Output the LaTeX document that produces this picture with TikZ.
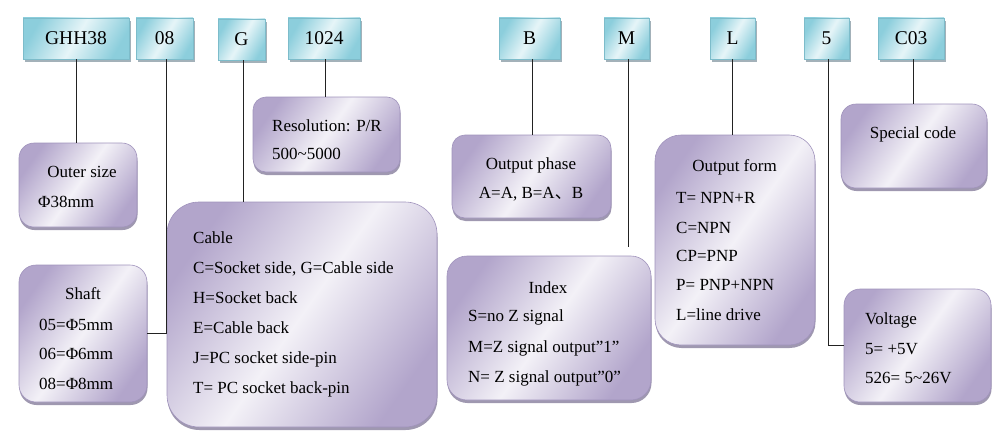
\documentclass[tikz,border=0pt]{standalone}
\usepackage{fontspec}
\setmainfont{Liberation Serif}
\newfontfamily\cjk{Noto Sans CJK SC}
\usetikzlibrary{shadows}
\definecolor{lilac}{HTML}{B2A5CB}
\definecolor{lilaclight}{HTML}{F3F1F7}
\definecolor{lilacborder}{HTML}{A093BC}
\definecolor{lilacshadow}{HTML}{8E86A2}
\definecolor{cyanedge}{HTML}{8CCEDC}
\definecolor{cyanlight}{HTML}{E6F5F8}
\definecolor{cyanborder}{HTML}{7DBCCA}
\definecolor{cyanshadow}{HTML}{8C9EA8}
\definecolor{linecol}{HTML}{222222}
\tikzset{
  codebox/.style={draw=cyanborder, line width=0.6pt, inner sep=0pt,
    left color=cyanedge, right color=cyanedge, middle color=cyanlight, shading angle=60,
    minimum height=41pt, font=\fontsize{19.5}{22}\selectfont,
    drop shadow={shadow xshift=2pt, shadow yshift=-3pt, fill=cyanshadow, opacity=0.8}},
  descbox/.style={draw=lilacborder, line width=0.6pt, inner sep=0pt,
    left color=lilac, right color=lilac, middle color=lilaclight, shading angle=55,
    drop shadow={shadow xshift=0.5pt, shadow yshift=-3pt, fill=lilacshadow, opacity=0.85}},
  txt/.style={inner sep=0pt, font=\fontsize{17}{20}\selectfont, text=black},
  ltxt/.style={txt, anchor=base west},
  ctxt/.style={txt, anchor=base},
  conn/.style={draw=linecol, line width=0.9pt},
}
\begin{document}
\begin{tikzpicture}[x=1pt,y=-1pt]
\useasboundingbox (0,0) rectangle (1000,436);
% code boxes
\node[codebox, minimum width=106pt] (ghh) at (76,38.5) {GHH38};
\node[codebox, minimum width=57pt] (c08) at (164.5,38.5) {08};
\node[codebox, minimum width=47pt] (cG) at (241.5,39.5) {G};
\node[codebox, minimum width=72pt] (c1024) at (324,38.5) {1024};
\node[codebox, minimum width=61pt] (cB) at (529.5,38.5) {B};
\node[codebox, minimum width=45pt] (cM) at (626.5,38.5) {M};
\node[codebox, minimum width=45pt] (cL) at (732.5,38.5) {L};
\node[codebox, minimum width=45pt] (c5) at (826.5,38.5) {5};
\node[codebox, minimum width=66pt] (cC03) at (911,38.5) {C03};
% description boxes
\node[descbox, minimum width=118pt, minimum height=84pt, rounded corners=15pt] (outer) at (78,185) {};
\node[descbox, minimum width=128pt, minimum height=137pt, rounded corners=17pt] (shaft) at (83,333.5) {};
\node[descbox, minimum width=270pt, minimum height=225pt, rounded corners=32pt] (cable) at (302,314.5) {};
\node[descbox, minimum width=147pt, minimum height=75pt, rounded corners=13pt] (res) at (326.5,134.5) {};
\node[descbox, minimum width=159pt, minimum height=83pt, rounded corners=13pt] (phase) at (531.5,176.5) {};
\node[descbox, minimum width=204pt, minimum height=144pt, rounded corners=20pt] (index) at (549,328) {};
\node[descbox, minimum width=160pt, minimum height=210pt, rounded corners=26pt] (form) at (735,240) {};
\node[descbox, minimum width=146pt, minimum height=84pt, rounded corners=15pt] (special) at (914,146) {};
\node[descbox, minimum width=147pt, minimum height=113pt, rounded corners=16pt] (voltage) at (917.5,345.5) {};
% connectors
\draw[conn] (ghh.south) -- (ghh.south |- outer.north);
\draw[conn] ([xshift=1.5pt]c08.south) |- (shaft.east);
\draw[conn] ([xshift=1.5pt]cG.south) -- ([xshift=1.5pt]cG.south |- cable.north);
\draw[conn] ([xshift=1pt]c1024.south) -- ([xshift=1pt]c1024.south |- res.north);
\draw[conn] ([xshift=2.5pt]cB.south) -- ([xshift=2.5pt]cB.south |- phase.north);
\coordinate (mend) at (628,247);
\draw[conn] ([xshift=1.5pt]cM.south) -- (mend);
\draw[conn] (cL.south) -- (cL.south |- form.north);
\draw[conn] ([xshift=1.5pt]c5.south) |- (voltage.west);
\draw[conn] ([xshift=2pt]cC03.south) -- ([xshift=2pt]cC03.south |- special.north);
% texts
\node[ctxt] (t-outer1) at (82,177) {Outer size};
\node[ltxt] (t-outer2) at (38,207) {Φ38mm};
\node[ctxt] (t-shaft1) at (83,299) {Shaft};
\node[ltxt] (t-shaft2) at (39,330) {05=Φ5mm};
\node[ltxt] (t-shaft3) at (39,359) {06=Φ6mm};
\node[ltxt] (t-shaft4) at (39,389) {08=Φ8mm};
\node[ltxt] (t-cable1) at (193,243) {Cable};
\node[ltxt] (t-cable2) at (193,273) {C=Socket side, G=Cable side};
\node[ltxt] (t-cable3) at (193,303) {H=Socket back};
\node[ltxt] (t-cable4) at (193,333) {E=Cable back};
\node[ltxt] (t-cable5) at (193,363) {J=PC socket side-pin};
\node[ltxt] (t-cable6) at (193,393) {T= PC socket back-pin};
\node[ltxt] (t-res1) at (272,131) {Resolution: P/R};
\node[ltxt] (t-res2) at (272,159) {500\textasciitilde5000};
\node[ctxt] (t-phase1) at (531,169) {Output phase};
\node[ctxt] (t-phase2) at (531,198) {A=A, B=A{\cjk 、}B};
\node[ctxt] (t-index1) at (548,293) {Index};
\node[ltxt] (t-index2) at (468,321) {S=no Z signal};
\node[ltxt] (t-index3) at (468,352) {M=Z signal output”1”};
\node[ltxt] (t-index4) at (468,382) {N= Z signal output”0”};
\node[ctxt] (t-form1) at (734.5,171) {Output form};
\node[ltxt] (t-form2) at (676,203) {T= NPN+R};
\node[ltxt] (t-form3) at (676,233) {C=NPN};
\node[ltxt] (t-form4) at (676,261) {CP=PNP};
\node[ltxt] (t-form5) at (676,290) {P= PNP+NPN};
\node[ltxt] (t-form6) at (676,320) {L=line drive};
\node[ctxt] (t-special) at (913,138) {Special code};
\node[ltxt] (t-volt1) at (865,324) {Voltage};
\node[ltxt] (t-volt2) at (865,354) {5= +5V};
\node[ltxt] (t-volt3) at (865,383) {526= 5\textasciitilde26V};
\end{tikzpicture}
\end{document}
